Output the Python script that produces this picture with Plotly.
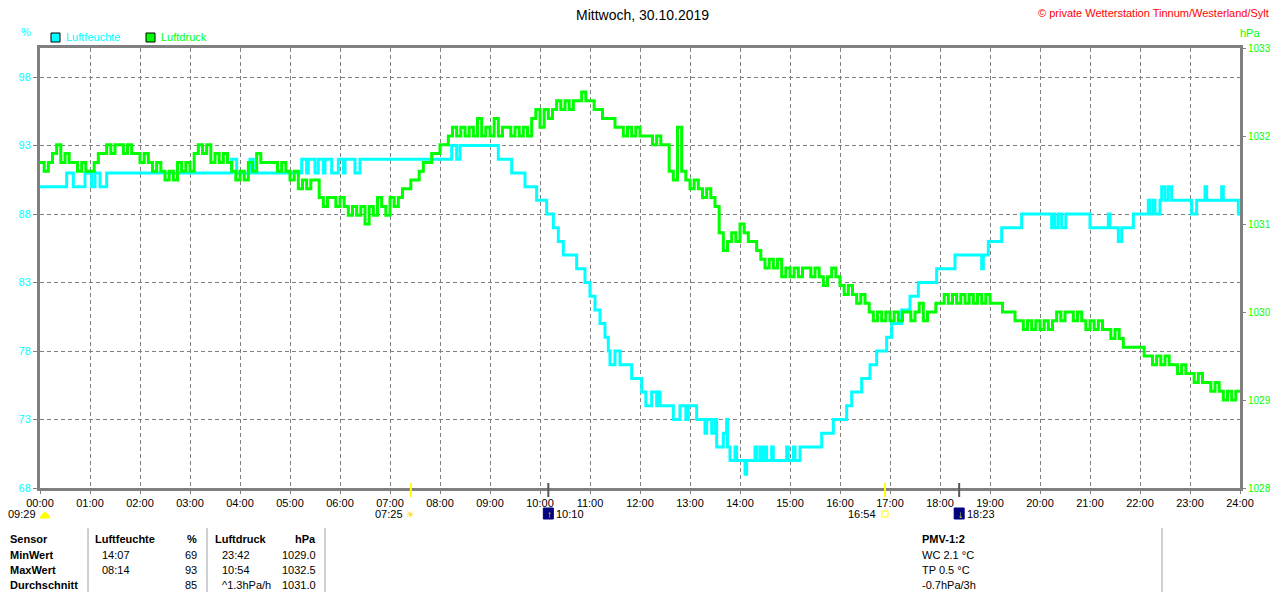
import plotly.graph_objects as go

# Luftfeuchte (%) - Zeitpunkte der Stufenwechsel
hum_times = ["00:00", "00:32", "00:40", "00:54", "01:02", "01:06", "01:12", "01:20",
             "03:50", "03:56", "04:12", "04:16",
             "05:14", "05:20", "05:22", "05:30", "05:34", "05:40", "05:42", "05:50", "05:58",
             "06:04", "06:06", "06:18", "06:24",
             "08:14", "08:20", "08:24",
             "09:10", "09:26", "09:42", "09:56", "10:08", "10:16", "10:22", "10:28", "10:44",
             "10:54", "11:00", "11:06", "11:12", "11:18", "11:22", "11:24", "11:30", "11:36",
             "11:50", "12:02", "12:07", "12:14", "12:20", "12:22", "12:24", "12:40", "12:48",
             "12:55", "12:58",
             "13:08", "13:18", "13:20", "13:26", "13:30", "13:32", "13:40", "13:44", "13:45",
             "13:48", "13:54", "13:56", "14:06", "14:08", "14:18", "14:20", "14:24", "14:27",
             "14:30", "14:32", "14:38", "14:40",
             "14:56", "14:58", "15:04", "15:06", "15:12", "15:38", "15:52", "16:08", "16:14",
             "16:26", "16:36", "16:44", "16:56", "17:02", "17:14", "17:24", "17:34", "17:56",
             "18:18", "18:50", "18:52", "18:58", "19:14", "19:38",
             "20:14", "20:16", "20:18", "20:22", "20:26", "20:31", "21:00", "21:22", "21:24",
             "21:34", "21:38", "21:52", "22:10", "22:12", "22:16", "22:18", "22:24", "22:26",
             "22:30", "22:34", "22:38", "23:02", "23:08", "23:18", "23:20", "23:38", "23:40",
             "23:58", "24:00"]
hum_values = [90, 91, 90, 91, 90, 91, 90, 91,
              92, 91, 92, 91,
              92, 91, 92, 91, 92, 91, 92, 91, 92,
              91, 92, 91, 92,
              93, 92, 93,
              92, 91, 90, 89, 88, 87, 86, 85, 84,
              83, 82, 81, 80, 79, 78, 77, 78, 77,
              76, 75, 74, 75, 74, 75, 74, 73, 74,
              73, 74,
              73, 72, 73, 72, 73, 71, 72, 73, 71,
              70, 71, 70, 69, 70, 71, 70, 71, 70,
              71, 70, 71, 70,
              71, 70, 71, 70, 71, 72, 73, 74, 75,
              76, 77, 78, 79, 80, 81, 82, 83, 84,
              85, 84, 85, 86, 87, 88,
              87, 88, 87, 88, 87, 88, 87, 88, 87,
              86, 87, 88, 89, 88, 89, 88, 89, 90,
              89, 90, 89, 88, 89, 90, 89, 90, 89,
              88, 88]

# Luftdruck (hPa) - alle 5 Minuten ab 00:00
press_start = "00:00"
press_step_min = 5
press_values = [
    1031.7, 1031.6, 1031.7, 1031.8, 1031.9, 1031.7, 1031.8, 1031.7, 1031.7, 1031.6, 1031.7, 1031.6,
    1031.6, 1031.7, 1031.8, 1031.8, 1031.9, 1031.8, 1031.9, 1031.9, 1031.8, 1031.9, 1031.8, 1031.8,
    1031.7, 1031.8, 1031.7, 1031.6, 1031.7, 1031.6, 1031.5, 1031.6, 1031.5, 1031.7, 1031.6, 1031.7,
    1031.6, 1031.8, 1031.9, 1031.8, 1031.9, 1031.7, 1031.8, 1031.7, 1031.8, 1031.7, 1031.6, 1031.5,
    1031.6, 1031.5, 1031.7, 1031.6, 1031.8, 1031.7, 1031.7, 1031.7, 1031.7, 1031.6, 1031.7, 1031.6,
    1031.5, 1031.6, 1031.4, 1031.5, 1031.4, 1031.5, 1031.5, 1031.3, 1031.2, 1031.3, 1031.3, 1031.2,
    1031.3, 1031.2, 1031.1, 1031.2, 1031.1, 1031.2, 1031.0, 1031.2, 1031.1, 1031.3, 1031.2, 1031.1,
    1031.3, 1031.2, 1031.3, 1031.4, 1031.4, 1031.5, 1031.5, 1031.6, 1031.7, 1031.7, 1031.8, 1031.8,
    1031.9, 1031.9, 1032.0, 1032.1, 1032.0, 1032.1, 1032.0, 1032.1, 1032.0, 1032.2, 1032.0, 1032.1,
    1032.0, 1032.2, 1032.0, 1032.1, 1032.1, 1032.0, 1032.1, 1032.0, 1032.1, 1032.0, 1032.2, 1032.3,
    1032.1, 1032.3, 1032.2, 1032.3, 1032.4, 1032.3, 1032.4, 1032.3, 1032.4, 1032.4, 1032.5, 1032.4,
    1032.4, 1032.3, 1032.3, 1032.2, 1032.2, 1032.2, 1032.1, 1032.1, 1032.0, 1032.1, 1032.0, 1032.1,
    1032.0, 1032.0, 1032.0, 1031.9, 1032.0, 1031.9, 1031.9, 1031.6, 1031.5, 1032.1, 1031.6, 1031.5,
    1031.4, 1031.5, 1031.4, 1031.3, 1031.4, 1031.3, 1031.2, 1030.9, 1030.7, 1030.8, 1030.9, 1030.8,
    1031.0, 1030.9, 1030.8, 1030.8, 1030.7, 1030.6, 1030.5, 1030.6, 1030.5, 1030.6, 1030.4, 1030.5,
    1030.4, 1030.5, 1030.4, 1030.5, 1030.5, 1030.4, 1030.5, 1030.4, 1030.3, 1030.4, 1030.5, 1030.4,
    1030.3, 1030.2, 1030.3, 1030.2, 1030.1, 1030.2, 1030.1, 1030.0, 1029.9, 1030.0, 1029.9, 1030.0,
    1029.9, 1030.0, 1029.9, 1030.0, 1030.0, 1029.9, 1030.0, 1030.1, 1029.9, 1030.0, 1030.0, 1030.1,
    1030.1, 1030.2, 1030.1, 1030.2, 1030.1, 1030.2, 1030.1, 1030.2, 1030.1, 1030.2, 1030.1, 1030.2,
    1030.1, 1030.1, 1030.1, 1030.0, 1030.0, 1030.0, 1029.9, 1029.9, 1029.8, 1029.9, 1029.8, 1029.9,
    1029.8, 1029.9, 1029.8, 1029.9, 1030.0, 1029.9, 1030.0, 1030.0, 1029.9, 1030.0, 1029.9, 1029.8,
    1029.9, 1029.8, 1029.9, 1029.8, 1029.8, 1029.7, 1029.8, 1029.7, 1029.6, 1029.6, 1029.6, 1029.6,
    1029.6, 1029.5, 1029.5, 1029.4, 1029.5, 1029.4, 1029.5, 1029.4, 1029.4, 1029.3, 1029.4, 1029.3,
    1029.3, 1029.2, 1029.3, 1029.2, 1029.2, 1029.1, 1029.2, 1029.1, 1029.0, 1029.1, 1029.0, 1029.1,
    1029.1,
]

hour_labels = ["%02d:00" % h for h in range(25)]
hum_ticks = [68, 73, 78, 83, 88, 93, 98]
press_ticks = [1028, 1029, 1030, 1031, 1032, 1033]

# Sonne / Mond
sun_rise, sun_set = "07:25", "16:54"
moon_rise, moon_set = "10:10", "18:23"
moon_left = "09:29"

table_header = ["Sensor", "Luftfeuchte", "%", "Luftdruck", "hPa"]
table_rows = [
    ["MinWert", "14:07", "69", "23:42", "1029.0"],
    ["MaxWert", "08:14", "93", "10:54", "1032.5"],
    ["Durchschnitt", "", "85", "^1.3hPa/h", "1031.0"],
]
pmv_lines = ["WC 2.1 °C", "TP 0.5 °C", "-0.7hPa/3h"]


def hrs(t):
    h, m = t.split(":")
    return int(h) + int(m) / 60.0


CYAN = "#00FFFF"
GREEN = "#00FF00"
GRAY = "#808080"
FONT = "Liberation Sans"

press_x = [hrs(press_start) + i * press_step_min / 60.0 for i in range(len(press_values))]
hum_x = [hrs(t) for t in hum_times]

fig = go.Figure()
fig.add_trace(go.Scatter(x=press_x, y=press_values, yaxis="y2", mode="lines",
                         line=dict(color=GREEN, width=3, shape="hv"), showlegend=False))
fig.add_trace(go.Scatter(x=hum_x, y=hum_values, mode="lines",
                         line=dict(color=CYAN, width=3, shape="hv"), showlegend=False))

# the page body has an 8px margin, so the figure starts at page (8, 8);
# keep it fully inside the window (no scrollbars)
OFF = 8
W, H = 1264, 584
L, R, T, B = 32, 32, 40, 104
PH = H - T - B
PW = W - L - R


def py(pix):
    # page pixel y -> paper y
    return (H - B - (pix - OFF)) / PH


def px(pix):
    return (pix - OFF - L) / PW


fig.update_layout(
    width=W, height=H,
    margin=dict(l=L, r=R, t=T, b=B, autoexpand=False),
    paper_bgcolor="white", plot_bgcolor="white",
    font=dict(family=FONT, size=11, color="black"),
    xaxis=dict(range=[0, 24], tickvals=list(range(25)), ticktext=hour_labels,
               showgrid=True, gridcolor=GRAY, griddash="4px,3px", gridwidth=1,
               showline=True, linecolor=GRAY, linewidth=3, mirror=True,
               ticks="outside", ticklen=3, tickcolor=GRAY, zeroline=False,
               tickfont=dict(size=11, color="black")),
    yaxis=dict(range=[68, 100.12], tickvals=hum_ticks,
               showgrid=True, gridcolor=GRAY, griddash="4px,3px", gridwidth=1,
               showline=True, linecolor=GRAY, linewidth=3,
               ticks="outside", ticklen=4, tickcolor=GRAY, zeroline=False,
               tickfont=dict(size=11, color=CYAN)),
    yaxis2=dict(range=[1028, 1033], tickvals=press_ticks, overlaying="y", side="right",
                showgrid=False, showline=True, linecolor=GRAY, linewidth=3,
                ticks="outside", ticklen=3, tickcolor=GRAY, zeroline=False,
                tickfont=dict(size=10, color=GREEN)),
)

ann = []
shapes = []


def text(t, x, y, anchor="center", color="black", size=11):
    ann.append(dict(text=t, x=px(x), y=py(y), xref="paper", yref="paper", xanchor=anchor,
                    yanchor="middle", showarrow=False, font=dict(size=size, color=color)))


text("Mittwoch, 30.10.2019", 643, 15, size=14)
text("© private Wetterstation Tinnum/Westerland/Sylt", 1271, 13, "right", "#FF0000")
text("%", 26, 32, color=CYAN)
text("hPa", 1250, 33, color=GREEN)

# Legende
for lx, col, name in [(51, CYAN, "Luftfeuchte"), (146, GREEN, "Luftdruck")]:
    shapes.append(dict(type="rect", xref="paper", yref="paper",
                       x0=px(lx), x1=px(lx + 9), y0=py(42), y1=py(33),
                       fillcolor=col, line=dict(color="black", width=1)))
    text(name, lx + 13, 37.5, "left", col)

# Sonnen-/Mondmarken an der Zeitachse
for t, col in [(sun_rise, "#FFFF00"), (sun_set, "#FFFF00"), (moon_rise, "#555555"), (moon_set, "#555555")]:
    shapes.append(dict(type="line", xref="x", yref="paper", x0=hrs(t), x1=hrs(t),
                       y0=py(483), y1=py(497), line=dict(color=col, width=2)))


def xpix(t):
    return 40 + hrs(t) * 50


iy = 514
# Mond links
shapes.append(dict(type="path", xref="paper", yref="paper",
                   path="M %f %f Q %f %f %f %f Z" % (px(40), py(518), px(45), py(507), px(50), py(518)),
                   fillcolor="#FFFF00", line=dict(color="#FFFF00", width=1)))
text(moon_left, 38, iy, "right")
# Sonnenaufgang
text("☀", xpix(sun_rise), iy, color="#FFD800", size=10)
text(sun_rise, xpix(sun_rise) - 6, iy, "right")
# Sonnenuntergang
shapes.append(dict(type="rect", xref="paper", yref="paper",
                   x0=px(xpix(sun_set) - 3), x1=px(xpix(sun_set) + 3), y0=py(517), y1=py(511),
                   line=dict(color="#FFFF00", width=1)))
text(sun_set, xpix(sun_set) - 7, iy, "right")
# Mond auf/unter
for t, arrow in [(moon_rise, "↑"), (moon_set, "↓")]:
    cx = xpix(t)
    shapes.append(dict(type="rect", xref="paper", yref="paper",
                       x0=px(cx - 5), x1=px(cx + 5), y0=py(519), y1=py(508),
                       fillcolor="#000080", line=dict(color="#000080", width=1)))
    text(arrow, cx + 1, iy, color="#FFFF00", size=10)
    text(t, cx + 6, iy, "left")

# Tabelle unten
row_y = [539, 554.5, 570, 585]
col_x = [8, 93, 199, 213, 318]
col_anchor = ["left", "left", "right", "left", "right"]
for j, txt in enumerate(table_header):
    text("<b>%s</b>" % txt, col_x[j], row_y[0], col_anchor[j])
for i, row in enumerate(table_rows):
    for j, txt in enumerate(row):
        if txt == "":
            continue
        label = "<b>%s</b>" % txt if j == 0 else txt
        xx = col_x[j] + (7 if j in (1, 3) else 0)
        text(label, xx, row_y[i + 1], col_anchor[j])
for sx in [88, 207, 325, 1162]:
    shapes.append(dict(type="line", xref="paper", yref="paper", x0=px(sx), x1=px(sx),
                       y0=py(528), y1=py(592), line=dict(color="#A0A0A0", width=1)))

text("<b>PMV-1:2</b>", 920, row_y[0], "left")
for i, txt in enumerate(pmv_lines):
    text(txt, 920, row_y[i + 1], "left")

fig.update_layout(annotations=ann, shapes=shapes)
fig.write_html("out.html")
